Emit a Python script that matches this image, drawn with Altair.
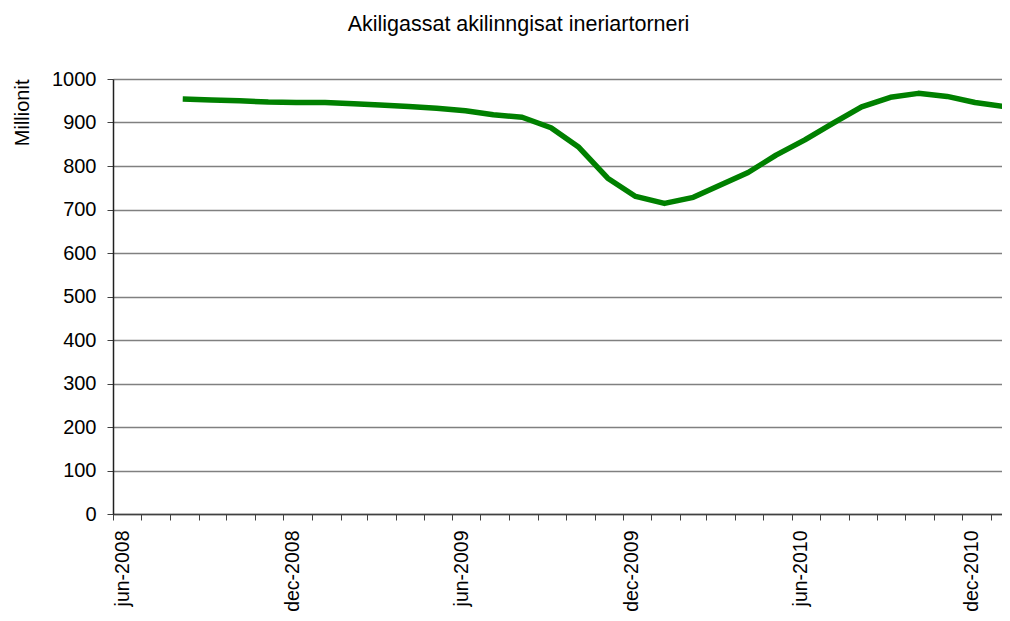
import altair as alt
import pandas as pd

dates = [
    "2008-08-15", "2008-09-15", "2008-10-15", "2008-11-15", "2008-12-15",
    "2009-01-15", "2009-02-15", "2009-03-15", "2009-04-15", "2009-05-15",
    "2009-06-15", "2009-07-15", "2009-08-15", "2009-09-15", "2009-10-15",
    "2009-11-15", "2009-12-15", "2010-01-15", "2010-02-15", "2010-03-15",
    "2010-04-15", "2010-05-15", "2010-06-15", "2010-07-15", "2010-08-15",
    "2010-09-15", "2010-10-15", "2010-11-15", "2010-12-15", "2011-01-15",
]
values = [
    954, 952, 950, 947, 946,
    946, 943, 940, 937, 933,
    927, 918, 912, 888, 843,
    772, 730, 714, 728, 755,
    785, 825, 860, 898, 936,
    958, 967, 960, 946, 937,
]

title_text = "Akiligassat akilinngisat ineriartorneri"
y_title = "Millionit"

df = pd.DataFrame({"date": dates, "value": values})

month_ticks = []
y, m = 2008, 6
while (y, m) <= (2011, 1):
    month_ticks.append(alt.DateTime(year=y, month=m, date=1, utc=True))
    m += 1
    if m > 12:
        m = 1
        y += 1

FONT = "Liberation Sans"

chart = (
    alt.Chart(df)
    .mark_line(color="#008000", strokeWidth=5.5, strokeJoin="round", strokeCap="butt")
    .encode(
        x=alt.X(
            "date:T",
            scale=alt.Scale(
                type="utc",
                domain=[
                    alt.DateTime(year=2008, month=6, date=1, utc=True),
                    alt.DateTime(year=2011, month=1, date=13, utc=True),
                ],
            ),
            axis=alt.Axis(
                title=None,
                values=month_ticks,
                labelExpr="(utcmonth(datum.value) == 5 || utcmonth(datum.value) == 11) ? lower(utcFormat(datum.value, '%b-%Y')) : ''",
                labelAngle=270,
                labelAlign="right",
                labelBaseline="top",
                labelPadding=10,
                labelFont=FONT,
                labelFontSize=19.5,
                labelColor="#000000",
                labelOverlap=False,
                labelFlush=False,
                tickSize=6,
                tickColor="#404040",
                tickWidth=1,
                domainColor="#404040",
                domainWidth=1.5,
                grid=False,
            ),
        ),
        y=alt.Y(
            "value:Q",
            scale=alt.Scale(domain=[0, 1000], nice=False),
            axis=alt.Axis(
                title=y_title,
                titleFont=FONT,
                titleFontSize=20,
                titleFontWeight="normal",
                titleColor="#000000",
                titleAngle=270,
                titleAlign="right",
                titleBaseline="middle",
                titleX=-91,
                titleY=0,
                values=list(range(0, 1001, 100)),
                format="d",
                labelFont=FONT,
                labelFontSize=20,
                labelColor="#000000",
                labelPadding=11,
                tickSize=6,
                tickColor="#404040",
                domainColor="#202020",
                domainWidth=1.5,
                gridColor="#808080",
                gridWidth=1.5,
            ),
        ),
    )
    .properties(
        width=889,
        height=435,
        title=alt.TitleParams(
            text=title_text,
            font=FONT,
            fontSize=21.5,
            fontWeight="normal",
            color="#000000",
            anchor="middle",
            frame="group",
            dx=-39,
            offset=34,
        ),
        padding={"left": 105, "top": 71, "right": 0, "bottom": 98},
        autosize=alt.AutoSizeParams(type="none"),
    )
    .configure_view(stroke=None)
    .configure(background="#ffffff")
)

chart.save("out.html", embed_options={"renderer": "svg", "actions": False})
